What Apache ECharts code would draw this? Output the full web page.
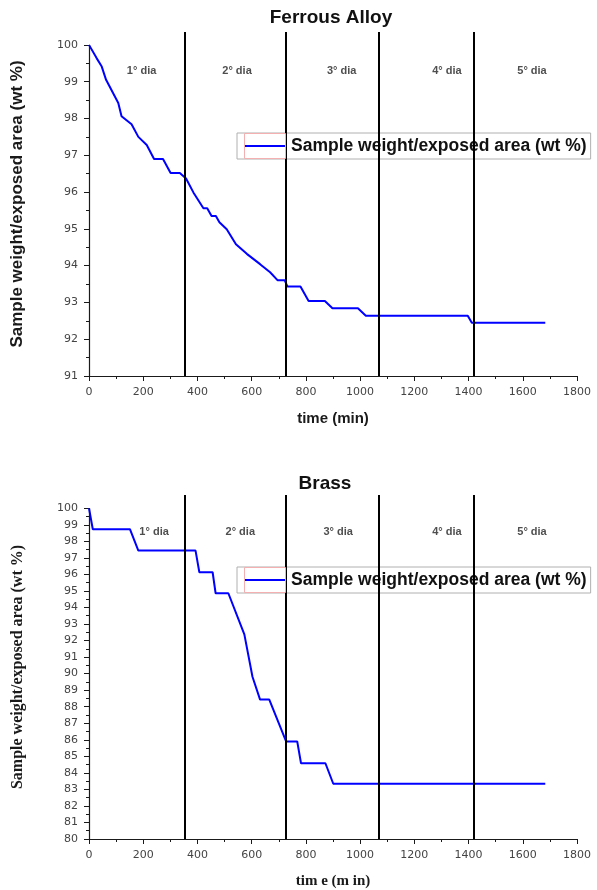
<!DOCTYPE html>
<html>
<head>
<meta charset="utf-8">
<script src="https://cdn.jsdelivr.net/npm/echarts@6/dist/echarts.min.js"></script>
<style>
  html, body { margin: 0; padding: 0; background: #fff; }
  #chart { width: 597px; height: 890px; }
</style>
</head>
<body>
<div id="chart"></div>
<script>
// Mass loss per exposed area during daily immersion (time in minutes)
const ferrousTime   = [0, 28, 47, 63, 108, 120, 157, 182, 213, 240, 273, 301, 335, 358, 385, 422, 436, 452, 468, 481, 508, 542, 582, 631, 668, 696, 722, 732, 780, 810, 870, 898, 992, 1021, 1397, 1412, 1683];
const ferrousWeight = [100, 99.64, 99.41, 99.05, 98.42, 98.06, 97.84, 97.50, 97.28, 96.90, 96.90, 96.52, 96.52, 96.37, 95.99, 95.56, 95.56, 95.35, 95.35, 95.18, 94.99, 94.58, 94.32, 94.04, 93.82, 93.60, 93.60, 93.43, 93.43, 93.04, 93.04, 92.84, 92.84, 92.64, 92.64, 92.45, 92.45];

const brassTime   = [0, 14, 151, 182, 393, 407, 456, 467, 514, 573, 603, 631, 665, 727, 768, 782, 872, 901, 1683];
const brassWeight = [100, 98.73, 98.73, 97.44, 97.44, 96.13, 96.13, 94.86, 94.86, 92.37, 89.81, 88.43, 88.43, 85.90, 85.90, 84.58, 84.58, 83.34, 83.34];

// End of each immersion day (minutes)
const dayBounds = [355, 725, 1070, 1420];
const dayNames  = ['1° dia', '2° dia', '3° dia', '4° dia', '5° dia'];
const ferrousDayLabelTime = [194, 546, 932, 1320, 1634];
const brassDayLabelTime   = [240, 558, 919, 1320, 1634];
const ferrousDayLabelLevel = 99.29;
const brassDayLabelLevel   = 98.58;

const xTickStep = 200;
const ferrousYTicks = [91, 92, 93, 94, 95, 96, 97, 98, 99, 100];
const brassYTicks = [80, 81, 82, 83, 84, 85, 86, 87, 88, 89, 90, 91, 92, 93, 94, 95, 96, 97, 98, 99, 100];

const seriesName = 'Sample weight/exposed area (wt %)';
const pairs = (xs, ys) => xs.map((x, i) => [x, ys[i]]);
const halfSteps = ticks => ticks.slice(0, -1).map(v => v + 0.5);

const SANS = "'Liberation Sans', Arial, sans-serif";
const SERIF = "'Liberation Serif', 'Times New Roman', serif";
const NUM = "'DejaVu Sans', sans-serif";
const INK = '#1a1a1a';

function xAxisFor(grid, name, nameFont) {
  return {
    gridIndex: grid, type: 'value', min: 0, max: 1800, interval: xTickStep,
    axisLine: { onZero: false, lineStyle: { color: INK, width: 1.2 } },
    axisTick: { length: 5, lineStyle: { color: INK, width: 1 } },
    minorTick: { show: true, splitNumber: 2, length: 3, lineStyle: { color: INK, width: 1 } },
    axisLabel: { fontFamily: NUM, fontSize: 11, color: '#444', margin: 11, formatter: v => String(v) },
    splitLine: { show: false }, minorSplitLine: { show: false },
    name: name, nameLocation: 'middle', nameGap: 35,
    nameTextStyle: { fontFamily: nameFont, fontWeight: 'bold', fontSize: 15, color: INK }
  };
}

function yAxesFor(grid, lo, hi, ticks, nameFont, nameSize) {
  return [{
    gridIndex: grid, type: 'value', position: 'left', min: lo, max: hi,
    axisLine: { show: false },
    axisTick: { show: true, length: 5, customValues: ticks, lineStyle: { color: INK, width: 1 } },
    axisLabel: { customValues: ticks, fontFamily: NUM, fontSize: 11, color: '#444', margin: 11 },
    splitLine: { show: false },
    name: seriesName, nameLocation: 'middle', nameRotate: 90, nameGap: 63,
    nameTextStyle: { fontFamily: nameFont, fontWeight: 'bold', fontSize: nameSize, color: INK }
  }, {
    gridIndex: grid, type: 'value', position: 'left', offset: 0, min: lo, max: hi,
    axisLine: { show: false },
    axisTick: { show: true, length: 3, customValues: halfSteps(ticks), lineStyle: { color: INK, width: 1 } },
    axisLabel: { show: false },
    splitLine: { show: false }
  }];
}

function frameSeries(xIdx, yIdx, lo, top, axisTop) {
  const lines = [[{ coord: [0, lo] }, { coord: [0, axisTop], lineStyle: { color: INK, width: 1.2 } }]];
  dayBounds.forEach(b => lines.push([{ coord: [b, lo] }, { coord: [b, top] }]));
  return {
    type: 'line', xAxisIndex: xIdx, yAxisIndex: yIdx, data: [], clip: false, silent: true,
    markLine: {
      silent: true, symbol: 'none', animation: false,
      label: { show: false },
      lineStyle: { color: '#000', width: 2, type: 'solid' },
      emphasis: { disabled: true },
      data: lines
    }
  };
}

function dayLabelSeries(xIdx, yIdx, times, level) {
  return {
    type: 'scatter', xAxisIndex: xIdx, yAxisIndex: yIdx, silent: true,
    symbolSize: 1, itemStyle: { color: 'rgba(0,0,0,0)' },
    label: { show: true, position: 'inside', formatter: p => p.name,
             fontFamily: SANS, fontWeight: 'bold', fontSize: 11, color: '#222' },
    data: times.map((t, i) => ({ name: dayNames[i], value: [t, level] }))
  };
}

function weightSeries(xIdx, yIdx, xs, ys) {
  return {
    name: seriesName, type: 'line', xAxisIndex: xIdx, yAxisIndex: yIdx,
    symbol: 'none', lineStyle: { color: '#0000ff', width: 2 }, itemStyle: { color: '#0000ff' },
    data: pairs(xs, ys), z: 3
  };
}

function legendAt(top) {
  return {
    left: 237, top: top, orient: 'horizontal',
    data: [{ name: seriesName, icon: 'rect' }],
    backgroundColor: '#fff', borderColor: '#b0b0b0', borderWidth: 1,
    padding: [3, 4, 3, 7], itemWidth: 42, itemHeight: 2, itemGap: 0,
    selectedMode: false,
    textStyle: { fontFamily: SANS, fontWeight: 'bold', fontSize: 17.5, color: '#111', lineHeight: 20 }
  };
}

// faint frame drawn around the legend swatch
function swatchFrame(top) {
  return { type: 'rect', z: 100, silent: true,
    shape: { x: 244.5, y: top + 0.5, width: 41, height: 25 },
    style: { fill: 'none', stroke: '#f4b0b0', lineWidth: 1 } };
}

const chart = echarts.init(document.getElementById('chart'), null, { renderer: 'canvas' });
chart.setOption({
  animation: false,
  backgroundColor: '#fff',
  grid: [
    { left: 89, top: 32, width: 488, height: 344 },
    { left: 89, top: 495, width: 488, height: 345 }
  ],
  xAxis: [ xAxisFor(0, 'time (min)', SANS), xAxisFor(1, 'tim e (m in)', SERIF) ],
  yAxis: [].concat(
    yAxesFor(0, 91, 100.35, ferrousYTicks, SANS, 17),
    yAxesFor(1, 80, 100.8, brassYTicks, SERIF, 16)
  ),
  legend: [ legendAt(133), legendAt(567) ],
  graphic: [
    { type: 'text', x: 331, y: 18, style: { text: 'Ferrous Alloy', textAlign: 'center', textVerticalAlign: 'middle',
      font: "bold 19px 'Liberation Sans', Arial, sans-serif", fill: '#111' } },
    { type: 'text', x: 325, y: 484, style: { text: 'Brass', textAlign: 'center', textVerticalAlign: 'middle',
      font: "bold 19px 'Liberation Sans', Arial, sans-serif", fill: '#111' } },
    swatchFrame(133),
    swatchFrame(567)
  ],
  series: [
    frameSeries(0, 0, 91, 100.35, 100),
    dayLabelSeries(0, 0, ferrousDayLabelTime, ferrousDayLabelLevel),
    weightSeries(0, 0, ferrousTime, ferrousWeight),
    frameSeries(1, 2, 80, 100.8, 100),
    dayLabelSeries(1, 2, brassDayLabelTime, brassDayLabelLevel),
    weightSeries(1, 2, brassTime, brassWeight)
  ]
});
</script>
</body>
</html>
